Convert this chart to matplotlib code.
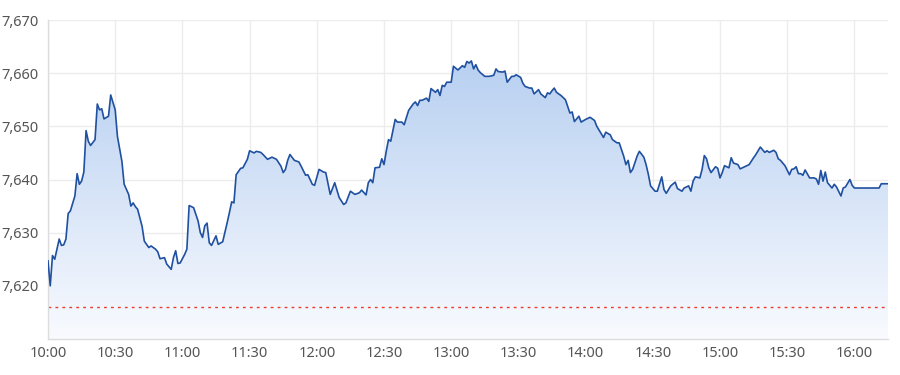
import numpy as np
import pandas as pd
import matplotlib
matplotlib.use("Agg")
import matplotlib.pyplot as plt
import matplotlib.dates as mdates
from matplotlib.patches import Polygon

# minutes after 10:00 and index level
minutes = [
    0, 1, 2, 3, 5, 6, 7, 8, 9, 10, 12, 13, 14, 15, 16, 17, 18, 19, 21, 22,
    23, 24, 25, 27, 28, 30, 31, 33, 34, 36, 37, 38, 39, 40, 42, 43, 45, 46, 48, 49,
    50, 52, 53, 55, 56, 57, 58, 59, 61, 62, 63, 65, 67, 68, 69, 70, 71, 72, 73, 75,
    76, 78, 80, 81, 82, 83, 84, 86, 87, 89, 90, 92, 93, 95, 96, 98, 100, 102, 104, 105,
    106, 107, 108, 110, 112, 113, 115, 116, 118, 119, 121, 123, 124, 126, 128, 130, 132, 133, 135, 137,
    139, 140, 142, 143, 144, 145, 146, 148, 149, 150, 151, 152, 153, 155, 156, 158, 159, 161, 163, 164,
    165, 166, 167, 169, 170, 171, 173, 174, 175, 176, 177, 178, 180, 181, 183, 185, 186, 187, 188, 189,
    190, 191, 192, 193, 195, 197, 199, 200, 201, 203, 204, 205, 207, 208, 209, 211, 212, 213, 215, 216,
    217, 219, 220, 222, 223, 224, 225, 226, 227, 229, 231, 233, 234, 235, 237, 238, 240, 242, 244, 245,
    248, 249, 251, 252, 254, 255, 257, 258, 259, 260, 261, 263, 264, 266, 267, 268, 269, 271, 272, 274,
    275, 276, 278, 280, 281, 283, 284, 286, 287, 288, 289, 291, 292, 293, 294, 295, 296, 298, 299, 300,
    301, 302, 304, 305, 306, 308, 309, 311, 313, 315, 316, 318, 320, 321, 322, 324, 325, 326, 327, 329,
    331, 332, 333, 334, 335, 336, 337, 338, 340, 342, 343, 344, 345, 346, 347, 348, 350, 351, 352, 354,
    355, 356, 358, 359, 360, 365, 371, 372, 375,
]
prices = [
    7624.7, 7620.0, 7625.7, 7625.0, 7628.8, 7627.6, 7627.7, 7628.8, 7633.6, 7634.1,
    7636.9, 7641.1, 7639.1, 7639.7, 7641.4, 7649.2, 7647.2, 7646.4, 7647.5, 7654.2,
    7653.1, 7653.3, 7651.4, 7651.9, 7655.9, 7653.1, 7648.1, 7643.4, 7639.1, 7637.2,
    7635.0, 7635.6, 7634.9, 7634.4, 7631.2, 7628.4, 7627.2, 7627.5, 7626.9, 7626.4,
    7625.1, 7625.3, 7624.1, 7623.1, 7625.3, 7626.6, 7624.2, 7624.3, 7625.9, 7626.9,
    7635.1, 7634.7, 7632.2, 7630.0, 7629.1, 7631.3, 7631.8, 7628.1, 7627.6, 7629.4,
    7627.8, 7628.3, 7631.9, 7633.8, 7635.8, 7635.6, 7640.9, 7642.1, 7642.2, 7643.8,
    7645.4, 7645.0, 7645.3, 7645.1, 7644.7, 7643.8, 7644.2, 7643.8, 7642.5, 7641.3,
    7641.9, 7643.6, 7644.7, 7643.6, 7643.3, 7642.5, 7640.8, 7640.9, 7639.1, 7638.9,
    7641.9, 7641.4, 7641.3, 7637.2, 7639.4, 7636.6, 7635.3, 7635.6, 7637.8, 7637.2,
    7637.5, 7638.0, 7637.1, 7639.4, 7640.0, 7639.4, 7642.2, 7642.3, 7643.9, 7642.8,
    7645.3, 7647.5, 7647.2, 7651.3, 7650.8, 7650.8, 7650.3, 7653.0, 7654.2, 7654.6,
    7653.9, 7654.9, 7654.9, 7655.3, 7654.7, 7657.1, 7656.4, 7656.9, 7655.8, 7657.7,
    7657.5, 7658.3, 7658.3, 7661.3, 7660.6, 7661.4, 7661.1, 7662.2, 7661.9, 7662.3,
    7660.8, 7661.6, 7660.6, 7660.1, 7659.4, 7659.4, 7659.6, 7660.8, 7660.3, 7660.2,
    7660.4, 7658.3, 7659.4, 7659.4, 7659.7, 7659.2, 7658.1, 7657.5, 7657.2, 7657.2,
    7656.1, 7656.9, 7656.1, 7655.4, 7656.3, 7656.1, 7656.7, 7657.2, 7656.4, 7655.8,
    7655.0, 7652.5, 7652.7, 7650.9, 7651.9, 7650.8, 7651.3, 7651.7, 7651.1, 7650.0,
    7647.9, 7648.9, 7648.4, 7647.5, 7646.9, 7646.9, 7644.4, 7642.8, 7643.6, 7641.3,
    7641.9, 7644.4, 7645.3, 7644.2, 7642.8, 7641.0, 7638.8, 7637.8, 7637.8, 7640.5,
    7638.1, 7637.4, 7638.8, 7639.5, 7638.3, 7637.8, 7638.4, 7638.8, 7637.8, 7639.7,
    7640.5, 7640.3, 7641.9, 7644.5, 7643.9, 7642.2, 7641.3, 7642.4, 7642.1, 7640.3,
    7641.3, 7642.6, 7642.2, 7644.1, 7643.1, 7642.8, 7642.0, 7642.4, 7642.8, 7644.1,
    7644.7, 7646.1, 7645.1, 7645.4, 7645.1, 7645.5, 7645.1, 7643.9, 7643.6, 7642.6,
    7640.9, 7641.9, 7642.0, 7642.4, 7641.1, 7641.1, 7640.8, 7641.8, 7640.3, 7640.3,
    7640.1, 7639.1, 7641.7, 7639.7, 7641.4, 7639.4, 7638.4, 7639.1, 7638.6, 7636.9,
    7638.4, 7638.6, 7640.0, 7638.9, 7638.4, 7638.4, 7638.4, 7639.2, 7639.2,
]
prev_close = 7616.0
y_ticks = [7620, 7630, 7640, 7650, 7660, 7670]
session_day = "2024-01-02"

start = pd.Timestamp(f"{session_day} 10:00")
times = start + pd.to_timedelta(minutes, unit="min")
x = mdates.date2num(times.to_pydatetime())
y = np.array(prices)

plt.rcParams["font.family"] = ["Noto Sans", "DejaVu Sans"]

fig = plt.figure(figsize=(9, 3.75), dpi=100)
ax = fig.add_axes([48 / 900, 1 - 339 / 375, 840 / 900, 319 / 375])

ymin, ymax = 7610, 7670
x0 = mdates.date2num(start.to_pydatetime())
x1 = mdates.date2num((start + pd.Timedelta(minutes=375)).to_pydatetime())
ax.set_xlim(x0, x1)
ax.set_ylim(ymin, ymax)

# gradient fill under the line
grad = np.linspace(0, 1, 256).reshape(-1, 1)
top_c = np.array([0.72, 0.815, 0.945])
bot_c = np.array([0.975, 0.982, 0.998])
img = top_c * (1 - grad[..., None]) + bot_c * grad[..., None]
img = img.reshape(256, 1, 3)
top_y = y.max()
im = ax.imshow(img, extent=[x0, x1, ymin, top_y], origin="upper",
               aspect="auto", zorder=1, interpolation="bilinear")
verts = np.column_stack([np.r_[x[0], x, x[-1]], np.r_[ymin, y, ymin]])
clip = Polygon(verts, closed=True, transform=ax.transData, facecolor="none",
               edgecolor="none")
ax.add_patch(clip)
im.set_clip_path(clip)

ax.plot(x, y, color="#2050a0", lw=1.2, zorder=3)
ax.axhline(prev_close, color="#f03a2e", lw=1, ls=(0, (2, 3)), zorder=2)

ax.set_yticks(y_ticks)
ax.yaxis.set_major_formatter(plt.FuncFormatter(lambda v, _: f"{v:,.0f}"))
ax.xaxis.set_major_locator(mdates.MinuteLocator(byminute=[0, 30]))
ax.xaxis.set_major_formatter(mdates.DateFormatter("%H:%M"))
ax.tick_params(length=0, labelsize=10.5, labelcolor="#555555", pad=7)
ax.tick_params(axis="x", pad=5)

ax.grid(color="#ececec", lw=1, zorder=0)
ax.set_axisbelow(True)
for side in ["top", "right"]:
    ax.spines[side].set_visible(False)
for side in ["left", "bottom"]:
    ax.spines[side].set_color("#dcdcdc")
    ax.spines[side].set_linewidth(1)

fig.savefig("out.png", dpi=100)
